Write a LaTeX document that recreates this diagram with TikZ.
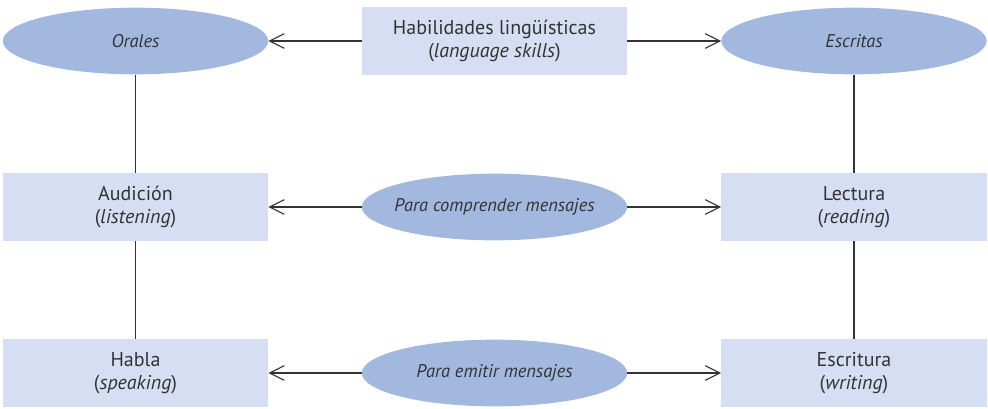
\documentclass[tikz,border=0pt]{standalone}
\usepackage{fontspec}
\setmainfont{PT Sans}
\usepackage{xcolor}
\usepackage{tikz}
\usetikzlibrary{shapes.geometric, arrows.meta}

\definecolor{ovalblue}{HTML}{A2B8DF}
\definecolor{boxblue}{HTML}{D5DEF2}
\definecolor{inkgray}{HTML}{333333}

\begin{document}
\begin{tikzpicture}[x=0.75pt, y=-0.75pt,
        oval/.style={ellipse, fill=ovalblue, minimum width=199pt, minimum height=50pt,
            inner xsep=-12pt, inner ysep=0pt, text=inkgray, font=\fontsize{13.8}{17}\selectfont\itshape},
        box/.style={rectangle, fill=boxblue, minimum width=199pt, minimum height=51pt,
            inner sep=0pt, align=center, text=inkgray, font=\fontsize{15}{17.5}\selectfont},
        link/.style={draw=inkgray, line width=0.9pt},
        pointer/.style={link, -{Straight Barb[length=11pt, width=11pt, line width=0.8pt]}}]
        % Fix the page to the reference size
        \useasboundingbox (0,0) rectangle (988,408);

        % Top row
        \node[oval] (orales) at (135.5,41) {Orales};
        \node[box] (habilidades) at (494.5,41) {Habilidades lingüísticas\\(\textit{language skills})};
        \node[oval] (escritas) at (854,41) {Escritas};

        % Middle row
        \node[box] (audicion) at (135.5,207) {Audición\\(\textit{listening})};
        \node[oval] (comprender) at (494.5,207) {Para comprender mensajes};
        \node[box] (lectura) at (854,207) {Lectura\\(\textit{reading})};

        % Bottom row
        \node[box] (habla) at (135.5,373) {Habla\\(\textit{speaking})};
        \node[oval] (emitir) at (494.5,373) {Para emitir mensajes};
        \node[box] (escritura) at (854,373) {Escritura\\(\textit{writing})};

        % Arrows from the centre column to both sides
        \foreach \mid/\left/\right in {habilidades/orales/escritas, comprender/audicion/lectura, emitir/habla/escritura} {
            \draw[pointer] (\mid.west) -- (\left.east);
            \draw[pointer] (\mid.east) -- (\right.west);
        }

        % Vertical links down each side
        \draw[link] (orales) -- (audicion);
        \draw[link] (audicion) -- (habla);
        \draw[link] (escritas) -- (lectura);
        \draw[link] (lectura) -- (escritura);
    \end{tikzpicture}
\end{document}
